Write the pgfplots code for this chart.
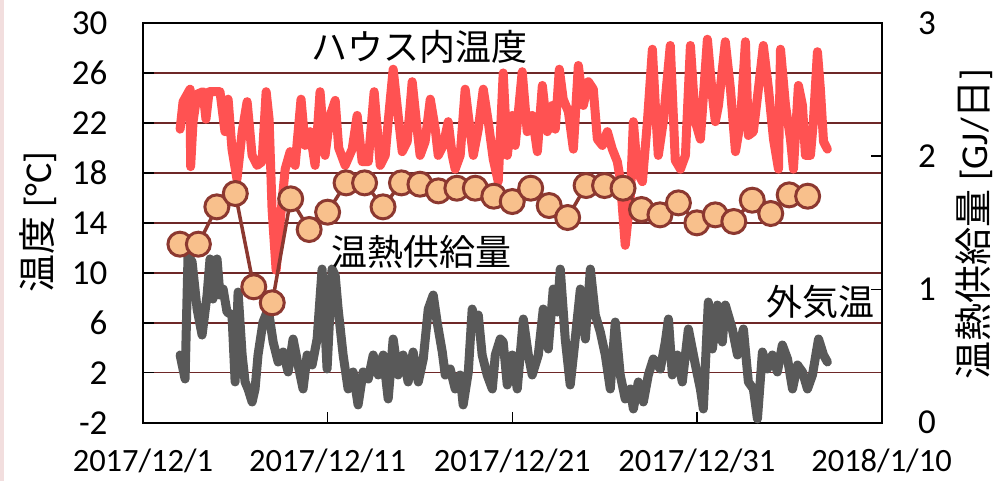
\documentclass[border=0pt]{standalone}
\usepackage{pgfplots}
\pgfplotsset{compat=1.18}
\usepackage{fontspec}
\setmainfont{Carlito}
\newfontfamily\jp{Noto Sans CJK JP}
\definecolor{redT}{RGB}{255,82,82}
\definecolor{grayT}{RGB}{89,89,89}
\definecolor{circFill}{RGB}{248,192,140}
\definecolor{circEdge}{RGB}{140,56,48}
\definecolor{gridC}{RGB}{110,40,40}
\definecolor{pinkC}{RGB}{242,222,222}
\begin{document}
\begin{tikzpicture}
\useasboundingbox (0,0) rectangle (1004pt,481pt);
\fill[pinkC] (0,0) rectangle (4pt,481pt);
\begin{axis}[
  at={(143pt,58.3pt)}, anchor=south west,
  scale only axis, width=738.5pt, height=399.7pt,
  xmin=0, xmax=40, ymin=-2, ymax=30,
  xtick={0,10,20,30,40},
  xticklabels={2017/12/1,2017/12/11,2017/12/21,2017/12/31,2018/1/10},
  ytick={-2,2,6,10,14,18,22,26,30},
  yticklabels={-2,2,6,10,14,18,22,26,30},
  tick align=inside, xtick pos=lower, ytick pos=left,
  major tick length=11pt,
  ymajorgrids, grid style={gridC, line width=1.5pt},
  axis line style={black, line width=2pt},
  tick style={black, line width=1.5pt},
  xticklabel style={font=\fontsize{32.5}{32.5}\selectfont, yshift=-23pt},
  yticklabel style={font=\fontsize{35}{35}\selectfont, xshift=-32pt},
  clip=false,
]
\addplot[grayT, line width=9pt, line join=round, line cap=round] coordinates {
(2.01,3.42)(2.28,1.50)(2.44,11.43)(2.66,10.87)(2.93,7.10)(3.20,5.02)(3.47,8.22)(3.63,11.11)(3.79,7.90)(4.01,11.11)(4.17,8.22)(4.34,8.70)(4.55,6.86)(4.82,6.62)(4.99,1.26)(5.15,8.46)(5.37,3.42)(5.53,1.26)(5.69,0.70)(5.91,-0.34)(6.07,0.70)(6.23,3.42)(6.50,6.06)(6.78,7.10)(7.05,4.46)(7.32,2.86)(7.59,3.66)(7.86,2.06)(8.13,4.70)(8.40,2.62)(8.67,0.70)(8.89,3.42)(9.16,2.62)(9.43,4.70)(9.70,10.30)(9.97,2.30)(10.24,10.30)(10.41,9.8)(10.57,7.10)(10.84,3.42)(11.11,0.70)(11.38,2.06)(11.65,-0.58)(11.92,2.06)(12.20,1.50)(12.47,3.42)(12.74,1.82)(13.01,3.42)(13.28,-0.10)(13.55,4.70)(13.82,1.82)(14.09,3.42)(14.36,1.26)(14.63,3.66)(14.91,1.26)(15.18,3.10)(15.45,7.10)(15.72,8.22)(15.93,6.06)(16.21,3.66)(16.37,1.82)(16.64,2.30)(16.91,0.70)(17.18,1.82)(17.34,-0.58)(17.62,2.06)(17.83,7.10)(17.99,6.06)(18.16,6.62)(18.37,3.42)(18.64,1.82)(18.92,0.70)(19.08,3.42)(19.35,4.70)(19.51,4.46)(19.73,1.02)(20.00,3.42)(20.27,0.70)(20.60,6.30)(20.87,3.42)(21.08,1.82)(21.41,3.42)(21.68,7.10)(21.95,3.90)(22.22,8.70)(22.44,6.86)(22.60,10.30)(22.87,4.70)(23.14,1.02)(23.41,4.70)(23.69,8.70)(23.96,4.70)(24.23,10.30)(24.50,6.62)(24.77,5.26)(25.04,3.42)(25.31,0.70)(25.58,6.06)(25.85,1.82)(26.12,-0.10)(26.40,0.70)(26.56,-0.90)(26.83,1.26)(27.10,-0.34)(27.37,1.82)(27.64,3.10)(28.02,2.30)(28.29,4.46)(28.46,6.30)(28.67,1.82)(28.94,3.42)(29.21,1.26)(29.54,5.50)(29.92,2.62)(30.19,0.70)(30.35,-0.90)(30.62,7.66)(30.84,3.90)(31.11,7.42)(31.38,4.46)(31.54,7.42)(31.92,5.50)(32.20,3.42)(32.52,5.50)(32.79,1.26)(33.06,0.70)(33.28,-1.70)(33.55,3.66)(33.82,2.30)(34.09,3.42)(34.36,2.06)(34.63,4.22)(34.91,3.10)(35.18,0.70)(35.45,2.62)(35.72,2.06)(35.99,0.70)(36.26,1.82)(36.59,4.70)(36.86,3.42)(37.07,2.86)
};
\addplot[redT, line width=9pt, line join=round, line cap=round] coordinates {
(2.01,21.5)(2.17,23.7)(2.55,24.7)(2.58,18.5)(2.71,22.1)(2.93,24.3)(3.25,24.5)(3.41,22.3)(3.58,24.5)(4.17,24.5)(4.44,21.3)(4.61,23.9)(4.82,19.9)(5.09,17.5)(5.37,21.3)(5.64,23.7)(5.91,19.4)(6.18,18.6)(6.45,18.9)(6.67,24.5)(6.83,22.3)(6.99,15.1)(7.21,10.2)(7.43,14.1)(7.70,18.3)(7.97,19.7)(8.24,18.6)(8.56,23.9)(8.78,20.2)(9.05,21.3)(9.32,18.6)(9.59,24.5)(9.86,19.4)(10.14,22.6)(10.41,23.8)(10.6,20.0)(10.95,18.6)(11.33,19.9)(11.60,22.6)(11.87,18.9)(12.20,18.9)(12.52,24.5)(12.85,18.6)(13.12,19.4)(13.28,22.1)(13.55,26.3)(13.82,22.6)(14.04,19.7)(14.31,20.5)(14.58,25.3)(14.85,21.5)(15.01,19.4)(15.28,20.5)(15.56,23.9)(15.83,21.5)(15.99,19.4)(16.26,20.2)(16.53,22.1)(16.75,19.4)(16.91,18.3)(17.18,19.4)(17.45,24.7)(17.62,22.6)(17.89,19.4)(18.16,21.5)(18.43,24.7)(18.70,22.1)(18.97,19.1)(19.24,17.3)(19.51,26.0)(19.73,19.4)(20.00,22.6)(20.16,20.2)(20.54,26.1)(20.81,21.3)(21.08,22.6)(21.36,19.7)(21.63,25.0)(21.90,21.3)(22.17,23.4)(22.33,21.5)(22.55,26.3)(22.76,23.9)(23.04,22.9)(23.31,19.9)(23.58,26.6)(23.85,23.4)(24.12,25.3)(24.39,24.7)(24.61,20.7)(24.88,20.2)(25.15,21.3)(25.42,19.9)(25.69,18.9)(25.85,17.5)(26.12,12.2)(26.40,16.2)(26.56,22.1)(26.78,18.1)(27.05,17.3)(27.32,22.1)(27.59,27.9)(27.75,23.4)(27.91,19.4)(28.18,22.1)(28.56,28.2)(28.83,19.0)(29.11,18.3)(29.38,19.4)(29.65,28.2)(29.92,22.1)(30.19,20.7)(30.57,28.7)(30.84,24.2)(31.00,22.1)(31.17,23.4)(31.54,28.5)(31.82,24.7)(32.09,19.7)(32.36,22.1)(32.63,28.5)(32.79,21.0)(33.06,21.3)(33.33,24.7)(33.60,28.2)(33.88,24.7)(34.15,20.7)(34.42,18.3)(34.53,27.9)(34.80,23.4)(35.07,20.7)(35.23,18.3)(35.50,25.0)(35.72,23.4)(35.88,19.4)(36.15,19.4)(36.31,22.1)(36.53,27.7)(36.69,24.7)(36.86,20.5)(37.07,19.9)
};
\node[font=\jp\fontsize{36}{36}\selectfont] at (axis cs:14.96,28.08) {ハウス内温度};
\node[font=\jp\fontsize{36}{36}\selectfont] at (axis cs:15.07,11.67) {温熱供給量};
\node[font=\jp\fontsize{36}{36}\selectfont] at (axis cs:36.7,7.66) {外気温};
\end{axis}
\begin{axis}[
  at={(143pt,58.3pt)}, anchor=south west,
  scale only axis, width=738.5pt, height=399.7pt,
  xmin=0, xmax=40, ymin=0, ymax=3,
  axis x line=none, axis y line*=right,
  ytick={0,1,2,3}, yticklabels={0,1,2,3},
  tick align=inside, major tick length=11pt,
  axis line style={black, line width=2pt},
  tick style={black, line width=1.5pt},
  yticklabel style={font=\fontsize{35}{35}\selectfont, xshift=33pt},
  clip=false,
]
\addplot[circEdge, line width=3.5pt, mark=*, mark size=12pt, mark options={fill=circFill, draw=circEdge, line width=3pt}] coordinates {
(2,1.34)(3,1.34)(4,1.62)(5,1.72)(6,1.02)(7,0.90)(8,1.68)(9,1.45)(10,1.58)(11,1.80)(12,1.80)(13,1.62)(14,1.80)(15,1.79)(16,1.74)(17,1.76)(18,1.76)(19,1.70)(20,1.66)(21,1.76)(22,1.63)(23,1.54)(24,1.78)(25,1.78)(26,1.76)(27,1.60)(28,1.56)(29,1.65)(30,1.50)(31,1.56)(32,1.51)(33,1.67)(34,1.57)(35,1.71)(36,1.70)
};
\end{axis}
\node[rotate=90, font=\fontsize{38}{38}\selectfont] at (38pt,259pt) {{\jp 温度} [°C]};
\node[rotate=90, font=\fontsize{38}{38}\selectfont] at (974pt,257pt) {{\jp 温熱供給量} [GJ/{\jp 日}]};
\end{tikzpicture}
\end{document}
